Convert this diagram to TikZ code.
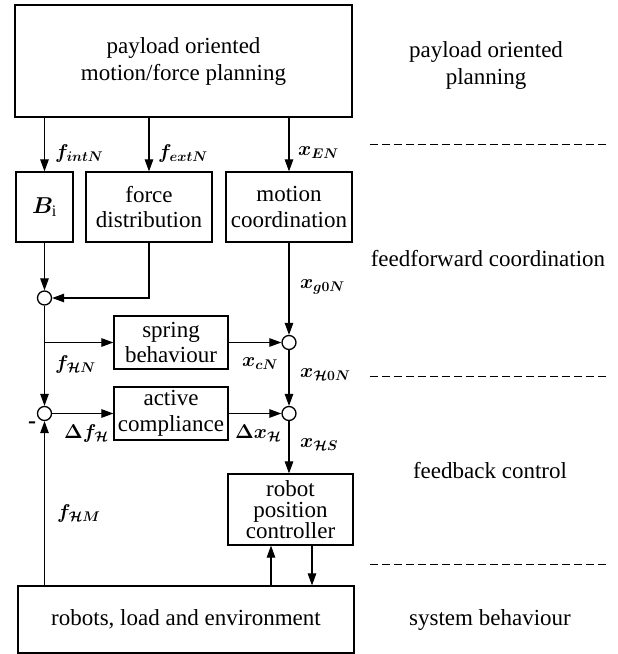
\RequirePackage{fix-cm}
\documentclass[tikz,border=0pt]{standalone}
\usepackage{amsmath,bm}
\usepackage{fontspec}
\setmainfont{Liberation Serif}
\usetikzlibrary{arrows.meta}
\tikzset{
  blk/.style={draw, line width=1.2pt, inner sep=0pt, align=center,
    font=\fontsize{23}{25.5}\selectfont},
  sumc/.style={draw, circle, line width=1.3pt, minimum size=14pt, inner sep=0pt},
  arr/.style={line width=1.1pt, -{Triangle[length=12pt,width=8.5pt]}},
  lbl/.style={anchor=west, inner sep=0pt, font=\fontsize{20}{24}\selectfont\boldmath},
  side/.style={inner sep=0pt, align=center, font=\fontsize{23}{27}\selectfont},
  sep/.style={line width=1pt, dash pattern=on 8pt off 4pt}
}
\begin{document}
\begin{tikzpicture}[x=1pt,y=-1pt]
\useasboundingbox (0,0) rectangle (618,654);
% blocks
\node[blk, minimum width=337pt, minimum height=112pt, font=\fontsize{23}{27}\selectfont] (top) at (183.5,61) {\raisebox{-3pt}{\parbox{330pt}{\centering payload oriented\\motion/force planning}}};
\node[blk, minimum width=57pt, minimum height=70pt] (Bi) at (44.5,207) {$\boldsymbol{B}_{\mathrm{i}}$};
\node[blk, minimum width=126pt, minimum height=70pt] (fd) at (149,207) {force\\distribution};
\node[blk, minimum width=126pt, minimum height=70pt] (mc) at (289,207) {motion\\coordination};
\node[blk, minimum width=114pt, minimum height=53pt] (spring) at (171,342.5) {spring\\behaviour};
\node[blk, minimum width=114pt, minimum height=53pt] (ac) at (171,413.5) {active\\compliance};
\node[blk, minimum width=125pt, minimum height=71pt, font=\fontsize{23}{21}\selectfont] (rpc) at (290.5,509.5) {robot\\position\\controller};
\node[blk, minimum width=336pt, minimum height=67pt] (env) at (186,619.5) {robots, load and environment};
% summing points
\node[sumc] (c1) at (44.5,298) {};
\node[sumc] (c2) at (289,342.5) {};
\node[sumc] (c3) at (44.5,413.5) {};
\node[sumc] (c4) at (289,413.5) {};
% connectors
\draw[arr] (top.south -| Bi) -- (Bi.north);
\draw[arr] (top.south -| fd) -- (fd.north);
\draw[arr] (top.south -| mc) -- (mc.north);
\draw[arr] (Bi.south) -- (c1.north);
\draw[arr] (fd.south) |- (c1.east);
\draw[arr] (c1.south) -- (c3.north);
\draw[arr] (c1 |- spring.west) -- (spring.west);
\draw[arr] (mc.south) -- (c2.north);
\draw[arr] (spring.east) -- (c2.west);
\draw[arr] (c2.south) -- (c4.north);
\draw[arr] (c3.east) -- (ac.west);
\draw[arr] (ac.east) -- (c4.west);
\draw[arr] (c4.south) -- (c4 |- rpc.north);
\draw[arr] (c3 |- env.north) -- (c3.south);
\coordinate (up) at (271,0);
\coordinate (dn) at (312,0);
\draw[arr] (up |- env.north) -- (up |- rpc.south);
\draw[arr] (dn |- rpc.south) -- (dn |- env.north);
% labels
\node[lbl] (l1) at (55,153) {$\boldsymbol{f}_{intN}$};
\node[lbl] (l2) at (158,153) {$\boldsymbol{f}_{extN}$};
\node[lbl] (l3) at (298,153) {$\boldsymbol{x}_{EN}$};
\node[lbl] (l4) at (300,287) {$\boldsymbol{x}_{g0N}$};
\node[lbl] (l5) at (55,364) {$\boldsymbol{f}_{\mathcal{H}N}$};
\node[lbl] (l6) at (242,364) {$\boldsymbol{x}_{cN}$};
\node[lbl] (l7) at (300,375) {$\boldsymbol{x}_{\mathcal{H}0N}$};
\node[lbl] (l8) at (64,433) {$\Delta\boldsymbol{f}_{\mathcal{H}}$};
\node[lbl] (l9) at (235,433) {$\Delta\boldsymbol{x}_{\mathcal{H}}$};
\node[lbl] (l10) at (300,445) {$\boldsymbol{x}_{\mathcal{H}S}$};
\node[lbl] (l11) at (57,513) {$\boldsymbol{f}_{\mathcal{H}M}$};
\node[lbl, font=\fontsize{24}{24}\selectfont\bfseries] (minus) at (28,425) {-};
% side texts
\node[side] (s1) at (486,65) {payload oriented\\planning};
\node[side] (s2) at (488,259) {feedforward coordination};
\node[side] (s3) at (490,471) {feedback control};
\node[side] (s4) at (490,620) {system behaviour};
\coordinate (d1a) at (370,144); \coordinate (d1b) at (607,144);
\coordinate (d2a) at (370,376); \coordinate (d2b) at (607,376);
\coordinate (d3a) at (370,564); \coordinate (d3b) at (607,564);
\draw[sep] (d1a) -- (d1b);
\draw[sep] (d2a) -- (d2b);
\draw[sep] (d3a) -- (d3b);
\end{tikzpicture}
\end{document}
